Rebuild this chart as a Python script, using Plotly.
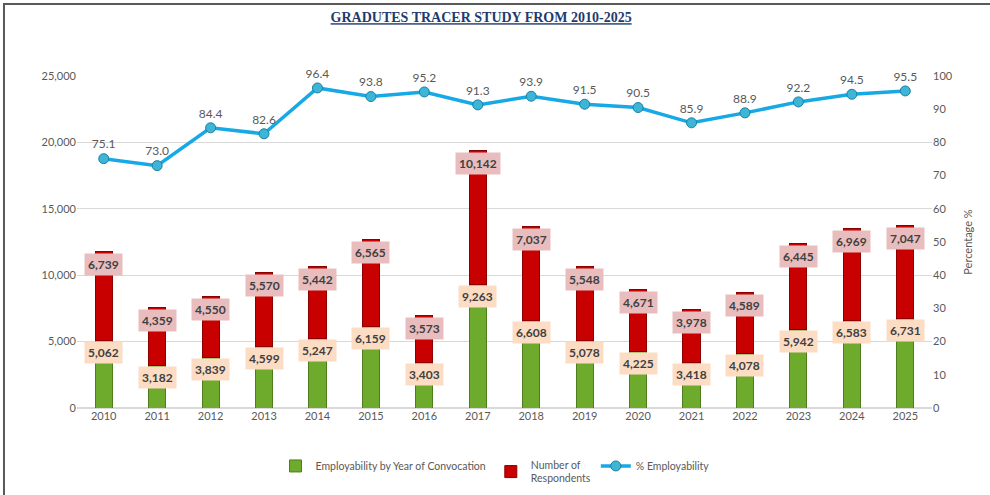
import plotly.graph_objects as go

years = [str(y) for y in range(2010, 2026)]
employed = [5062, 3182, 3839, 4599, 5247, 6159, 3403, 9263, 6608, 5078, 4225, 3418, 4078, 5942, 6583, 6731]
respondents = [6739, 4359, 4550, 5570, 5442, 6565, 3573, 10142, 7037, 5548, 4671, 3978, 4589, 6445, 6969, 7047]
pct_employ = [75.1, 73.0, 84.4, 82.6, 96.4, 93.8, 95.2, 91.3, 93.9, 91.5, 90.5, 85.9, 88.9, 92.2, 94.5, 95.5]

FONT = "Lato"
GRAY = "#595959"

fig = go.Figure()

fig.add_bar(
    x=years,
    y=employed,
    name="Employability by Year of Convocation",
    marker=dict(color="#6EAA2C", line=dict(color="#4E7D1E", width=1)),
    width=0.32,
)
fig.add_bar(
    x=years,
    y=respondents,
    name="Number of<br>Respondents",
    marker=dict(color="#C80000", line=dict(color="#8E0000", width=1)),
    width=0.32,
)
fig.add_scatter(
    x=years,
    y=pct_employ,
    name="% Employability",
    yaxis="y2",
    mode="lines+markers+text",
    text=[f"{v:.1f}" for v in pct_employ],
    textposition="top center",
    textfont=dict(family=FONT, size=12, color=GRAY),
    line=dict(color="#16A9E6", width=3.5),
    marker=dict(size=10, color="#3DB5D6", line=dict(color="#1E7FA0", width=1)),
    cliponaxis=False,
)

# value boxes at the top of each bar segment (x = category index)
totals = [e + r for e, r in zip(employed, respondents)]
for i, (e, r, t) in enumerate(zip(employed, respondents, totals)):
    fig.add_annotation(
        x=i, y=e, yshift=-12, text=f"<b>{e:,}</b>", showarrow=False,
        font=dict(family=FONT, size=12, color="#404040"),
        bgcolor="#FCDDC4", borderpad=3,
    )
    fig.add_annotation(
        x=i, y=t, yshift=-13, text=f"<b>{r:,}</b>", showarrow=False,
        font=dict(family=FONT, size=12, color="#404040"),
        bgcolor="#E9BDBD", borderpad=3,
    )

# chart frame
fig.add_shape(
    type="rect", xref="paper", yref="paper",
    x0=-0.0854, x1=1.2, y0=-0.5, y1=1.2169,
    line=dict(color="#595959", width=2), layer="below",
)

fig.update_layout(
    barmode="stack",
    width=990,
    height=495,
    margin=dict(l=77, r=58, t=76, b=87),
    plot_bgcolor="white",
    paper_bgcolor="white",
    font=dict(family=FONT, size=11, color=GRAY),
    title=dict(
        text="<b><u>GRADUTES TRACER STUDY FROM 2010-2025</u></b>",
        x=0.486, xanchor="center", y=0.965, yanchor="middle",
        font=dict(family="Liberation Serif", size=14, color="#1F3B6E"),
    ),
    xaxis=dict(type="category", range=[-0.5, len(years) - 0.5], showgrid=False,
               showline=False, ticks="", automargin=False,
               tickfont=dict(size=11, color=GRAY)),
    yaxis=dict(
        range=[0, 25000], dtick=5000, tickformat=",", showgrid=True,
        gridcolor="#D9D9D9", gridwidth=1.3, zeroline=True, zerolinecolor="#D9D9D9",
        ticks="", ticklen=0, automargin=False, tickfont=dict(size=11, color=GRAY),
    ),
    yaxis2=dict(
        range=[0, 100], dtick=10, overlaying="y", side="right", showgrid=False,
        zeroline=False, automargin=False, tickfont=dict(size=11, color=GRAY),
        title=dict(text="Percentage %", font=dict(size=11, color=GRAY), standoff=12),
    ),
    legend=dict(
        orientation="h", x=0.5, xanchor="center", xref="container",
        y=0.088, yanchor="top", yref="container",
        font=dict(size=10.5, color=GRAY), traceorder="normal", itemwidth=30,
    ),
)

fig.write_html(
    "out.html",
    config={"displayModeBar": False},
    post_script="document.body.style.margin='0';",
)
